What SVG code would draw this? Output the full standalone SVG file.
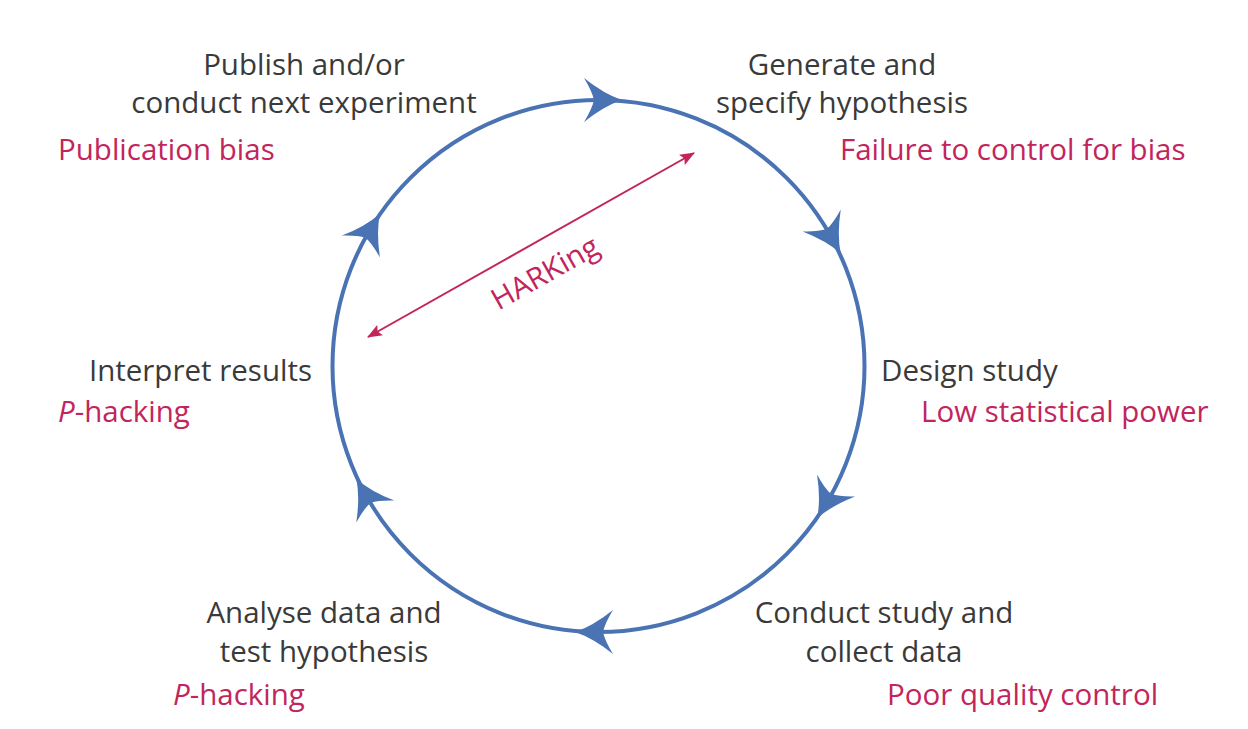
<svg xmlns="http://www.w3.org/2000/svg" width="1248" height="729" viewBox="0 0 1248 729">
<style>
.lbl{font-family:"Open Sans","Noto Sans","Liberation Sans",sans-serif;font-size:29.5px;fill:#3a3a3a}
.bias{font-family:"Open Sans","Noto Sans","Liberation Sans",sans-serif;font-size:29.5px;fill:#c2255c}
.mid{text-anchor:middle}
.end{text-anchor:end}
</style>
<defs>
<path id="bigHead" d="M22,0 Q4,-6 -16,-22 Q-8,-9 -6,0 Q-8,9 -16,22 Q4,6 22,0 Z" fill="#4a73b4"/>
<marker id="pinkHead" viewBox="0 0 15 12" refX="14" refY="6" markerWidth="15" markerHeight="12" markerUnits="userSpaceOnUse" orient="auto-start-reverse">
<path d="M15,6 L0,0 L3,6 L0,12 Z" fill="#c2255c"/>
</marker>
</defs>
<rect width="1248" height="729" fill="#ffffff"/>
<g id="connectors">
<circle cx="598.5" cy="366" r="266" fill="none" stroke="#4a73b4" stroke-width="4"/>
<use href="#bigHead" transform="translate(600,100) rotate(0)"/>
<use href="#bigHead" transform="translate(829.7,234.3) rotate(60)"/>
<use href="#bigHead" transform="translate(828.1,499.3) rotate(120)"/>
<use href="#bigHead" transform="translate(597,632) rotate(180)"/>
<use href="#bigHead" transform="translate(367.3,497.7) rotate(240)"/>
<use href="#bigHead" transform="translate(368.9,232.7) rotate(300)"/>
<line x1="368" y1="337" x2="694" y2="153" stroke="#c2255c" stroke-width="2" marker-start="url(#pinkHead)" marker-end="url(#pinkHead)"/>
<text class="bias mid" transform="translate(545,273) rotate(-29.5)" y="10">HARKing</text>
</g>
<g id="node-publish">
<text class="lbl mid" x="304" y="75">Publish and/or</text>
<text class="lbl mid" x="304" y="113">conduct next experiment</text>
<text class="bias" x="58" y="160">Publication bias</text>
</g>
<g id="node-generate">
<text class="lbl mid" x="842" y="75">Generate and</text>
<text class="lbl mid" x="842" y="113">specify hypothesis</text>
<text class="bias" x="840" y="160">Failure to control for bias</text>
</g>
<g id="node-design">
<text class="lbl" x="881" y="381">Design study</text>
<text class="bias" x="921" y="422">Low statistical power</text>
</g>
<g id="node-conduct">
<text class="lbl mid" x="884" y="623">Conduct study and</text>
<text class="lbl mid" x="884" y="662">collect data</text>
<text class="bias" x="887" y="705">Poor quality control</text>
</g>
<g id="node-analyse">
<text class="lbl mid" x="324" y="623">Analyse data and</text>
<text class="lbl mid" x="324" y="662">test hypothesis</text>
<text class="bias" x="173" y="705"><tspan font-style="italic">P</tspan>-hacking</text>
</g>
<g id="node-interpret">
<text class="lbl end" x="312" y="381">Interpret results</text>
<text class="bias" x="58" y="422"><tspan font-style="italic">P</tspan>-hacking</text>
</g>
</svg>
